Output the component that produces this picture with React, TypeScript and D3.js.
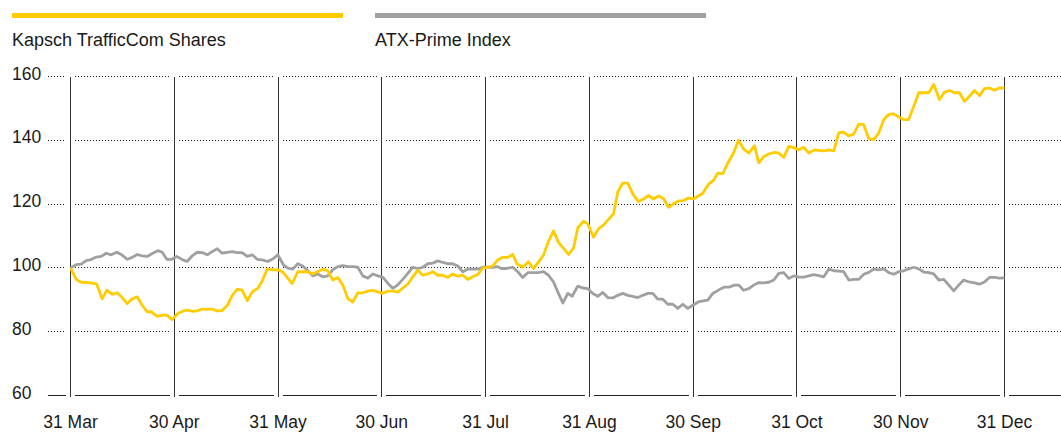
import React from "react";
import * as d3 from "d3";

// Month-end labels on the x axis (equally spaced)
const monthLabels = ["31 Mar", "30 Apr", "31 May", "30 Jun", "31 Jul", "31 Aug", "30 Sep", "31 Oct", "30 Nov", "31 Dec"];
const yTicks = [60, 80, 100, 120, 140, 160];

const seriesNames = ["Kapsch TrafficCom Shares", "ATX-Prime Index"];
const seriesColors = ["#FFCC00", "#A0A0A0"];

// [months after 31 Mar, index value (31 Mar = 100)]
const kapschShares: [number, number][] = [
  [0, 100], [0.055, 96.4], [0.103, 95.5], [0.183, 95.4], [0.253, 94.9], [0.305, 90.3], [0.35, 93.0], [0.402, 91.7],
  [0.45, 92.2], [0.498, 90.7], [0.546, 88.8], [0.595, 90.3], [0.643, 90.9], [0.691, 88.3], [0.739, 86.2], [0.778, 86.3],
  [0.835, 84.8], [0.889, 85.2], [0.928, 85.2], [0.98, 83.8], [1.034, 85.7], [1.089, 86.5], [1.13, 86.8], [1.178, 86.4],
  [1.221, 86.5], [1.269, 87.1], [1.317, 87.0], [1.365, 87.1], [1.414, 86.5], [1.458, 86.6], [1.51, 88.2], [1.558, 91.4],
  [1.606, 93.3], [1.654, 93.0], [1.703, 89.7], [1.751, 92.5], [1.805, 93.6], [1.847, 95.9], [1.895, 99.6], [1.949, 99.4],
  [1.998, 99.4], [2.046, 98.7], [2.136, 95.1], [2.19, 98.8], [2.287, 98.8], [2.335, 98.1], [2.431, 99.6], [2.479, 99.1],
  [2.527, 96.2], [2.576, 97.0], [2.624, 94.6], [2.672, 90.4], [2.72, 89.3], [2.768, 92.2], [2.817, 92.2], [2.865, 92.7],
  [2.913, 93.0], [2.961, 92.5], [3.003, 92.0], [3.057, 92.7], [3.106, 92.7], [3.154, 92.4], [3.202, 93.7], [3.25, 94.9],
  [3.298, 97.2], [3.347, 99.3], [3.395, 97.7], [3.443, 98.1], [3.491, 98.8], [3.539, 97.7], [3.587, 97.7], [3.636, 97.0],
  [3.684, 98.1], [3.732, 97.4], [3.78, 97.7], [3.828, 96.4], [3.876, 97.2], [3.925, 98.0], [3.973, 99.9], [4.021, 100.2],
  [4.069, 100.6], [4.117, 102.5], [4.166, 103.3], [4.214, 103.3], [4.262, 104.2], [4.301, 101.3], [4.358, 100.2], [4.413, 101.9],
  [4.461, 99.8], [4.503, 101.6], [4.558, 104.0], [4.599, 107.8], [4.654, 111.6], [4.702, 108.0], [4.75, 106.2], [4.799, 104.2],
  [4.847, 106.2], [4.888, 112.5], [4.943, 114.6], [4.985, 113.8], [5.04, 109.6], [5.091, 112.4], [5.136, 113.4], [5.184, 115.2],
  [5.232, 116.9], [5.274, 123.9], [5.322, 126.6], [5.37, 126.6], [5.418, 123.2], [5.473, 120.8], [5.521, 121.6], [5.57, 122.7],
  [5.618, 121.6], [5.666, 122.6], [5.714, 121.7], [5.762, 119.0], [5.81, 120.1], [5.859, 121.0], [5.907, 121.1], [5.955, 121.9],
  [6.003, 121.6], [6.054, 122.6], [6.093, 123.4], [6.15, 126.3], [6.196, 127.4], [6.237, 129.7], [6.285, 129.5], [6.334, 132.9],
  [6.389, 136.0], [6.437, 140.0], [6.485, 137.3], [6.536, 136.0], [6.591, 138.3], [6.632, 132.9], [6.68, 134.9], [6.729, 135.7],
  [6.784, 136.2], [6.825, 136.0], [6.873, 134.6], [6.921, 138.1], [6.969, 137.7], [7.018, 137.0], [7.066, 137.8], [7.114, 136.0],
  [7.169, 137.0], [7.217, 136.8], [7.265, 136.7], [7.307, 137.0], [7.355, 136.7], [7.403, 142.3], [7.448, 142.6], [7.497, 141.4],
  [7.545, 141.9], [7.596, 145.1], [7.644, 144.9], [7.692, 140.5], [7.74, 140.2], [7.788, 142.3], [7.837, 146.5], [7.885, 148.1],
  [7.933, 148.3], [7.981, 147.3], [8.029, 146.5], [8.077, 146.5], [8.126, 150.7], [8.174, 154.9], [8.222, 154.9], [8.27, 154.9],
  [8.318, 157.5], [8.373, 152.8], [8.422, 155.1], [8.47, 155.6], [8.518, 154.9], [8.566, 154.9], [8.614, 152.2], [8.662, 153.8],
  [8.711, 155.6], [8.759, 154.0], [8.807, 156.2], [8.855, 156.4], [8.903, 155.7], [8.952, 156.4], [9.0, 156.4],
];

const atxPrime: [number, number][] = [
  [0, 100], [0.055, 101.0], [0.103, 101.2], [0.151, 102.3], [0.199, 102.6], [0.248, 103.4], [0.296, 103.6], [0.344, 104.6],
  [0.392, 104.1], [0.446, 104.9], [0.494, 104.1], [0.546, 102.7], [0.595, 103.3], [0.643, 104.2], [0.691, 103.8], [0.739, 103.6],
  [0.793, 104.6], [0.841, 105.4], [0.884, 104.9], [0.928, 102.7], [0.976, 102.7], [1.024, 103.6], [1.076, 102.6], [1.124, 102.0],
  [1.173, 103.8], [1.221, 104.9], [1.269, 104.8], [1.317, 104.1], [1.365, 105.1], [1.414, 106.0], [1.462, 104.6], [1.51, 104.9],
  [1.558, 105.1], [1.606, 104.8], [1.654, 104.8], [1.703, 103.6], [1.751, 104.1], [1.799, 102.7], [1.847, 102.5], [1.901, 102.0],
  [1.949, 102.8], [1.998, 104.1], [2.053, 100.9], [2.094, 99.9], [2.142, 99.6], [2.19, 101.3], [2.238, 100.6], [2.287, 99.1],
  [2.335, 97.5], [2.383, 98.1], [2.431, 97.2], [2.479, 97.5], [2.527, 99.4], [2.576, 100.4], [2.624, 100.7], [2.672, 100.4],
  [2.72, 100.4], [2.768, 100.2], [2.817, 97.5], [2.865, 96.8], [2.913, 98.1], [2.961, 97.5], [3.009, 97.1], [3.057, 95.2],
  [3.106, 93.6], [3.154, 94.7], [3.202, 96.4], [3.25, 98.3], [3.298, 100.2], [3.347, 99.8], [3.395, 100.2], [3.443, 101.3],
  [3.491, 101.5], [3.539, 102.2], [3.587, 101.7], [3.636, 101.3], [3.684, 101.3], [3.732, 100.6], [3.78, 98.8], [3.828, 99.6],
  [3.876, 99.6], [3.925, 99.6], [3.973, 100.2], [4.021, 100.2], [4.069, 100.2], [4.117, 100.4], [4.15, 99.8], [4.198, 99.8],
  [4.262, 100.2], [4.31, 98.8], [4.358, 97.0], [4.406, 98.5], [4.455, 98.5], [4.509, 98.5], [4.558, 98.8], [4.606, 97.7],
  [4.654, 95.6], [4.702, 92.0], [4.744, 89.0], [4.792, 92.0], [4.834, 91.1], [4.888, 94.3], [4.936, 93.7], [4.985, 93.5],
  [5.033, 92.0], [5.081, 91.1], [5.129, 92.3], [5.177, 90.7], [5.225, 90.6], [5.274, 91.4], [5.322, 92.0], [5.37, 91.4],
  [5.418, 91.1], [5.466, 90.7], [5.515, 91.4], [5.563, 92.0], [5.611, 92.0], [5.659, 90.2], [5.707, 90.2], [5.756, 88.6],
  [5.804, 88.6], [5.852, 87.3], [5.9, 88.6], [5.948, 87.3], [5.996, 88.3], [6.054, 89.4], [6.141, 89.9], [6.189, 92.0],
  [6.253, 93.2], [6.302, 94.0], [6.35, 94.0], [6.398, 94.6], [6.44, 94.6], [6.485, 93.0], [6.536, 93.5], [6.584, 94.6],
  [6.632, 95.4], [6.68, 95.3], [6.729, 95.5], [6.777, 96.2], [6.825, 98.3], [6.873, 98.5], [6.921, 96.7], [6.969, 97.5],
  [7.018, 97.1], [7.066, 97.1], [7.114, 97.5], [7.162, 97.9], [7.21, 97.6], [7.258, 97.2], [7.307, 99.6], [7.355, 99.1],
  [7.403, 99.0], [7.451, 98.8], [7.499, 96.2], [7.547, 96.4], [7.596, 96.4], [7.644, 98.0], [7.692, 98.6], [7.74, 99.6],
  [7.788, 99.4], [7.837, 99.7], [7.885, 98.5], [7.933, 98.0], [7.981, 98.8], [8.029, 99.1], [8.077, 99.7], [8.126, 100.2],
  [8.174, 99.7], [8.222, 98.7], [8.27, 98.5], [8.318, 98.1], [8.367, 96.2], [8.415, 96.4], [8.463, 94.6], [8.511, 92.8],
  [8.559, 94.6], [8.607, 96.2], [8.656, 95.6], [8.704, 95.4], [8.759, 94.9], [8.807, 95.6], [8.855, 97.0], [8.903, 97.0],
  [8.952, 96.8], [9.0, 96.9],
];

const W = 1061;
const H = 432;
const FONT = "'Liberation Sans', Arial, Helvetica, sans-serif";

export default function App() {
  const x = d3.scaleLinear().domain([0, monthLabels.length - 1]).range([70.5, 1004.5]);
  const y = d3.scaleLinear().domain([60, 160]).range([395.5, 76.5]);
  const gridLeft = 48;
  const gap = 4.5;

  const monthX = monthLabels.map((_, i) => x(i));
  const segments: [number, number][] = [];
  segments.push([gridLeft, monthX[0] - gap]);
  for (let i = 0; i < monthX.length - 1; i++) segments.push([monthX[i] + gap, monthX[i + 1] - gap]);
  segments.push([monthX[monthX.length - 1] + gap, W]);

  const line = d3
    .line<[number, number]>()
    .x((d) => x(d[0]))
    .y((d) => y(d[1]))
    .curve(d3.curveLinear);

  return (
    <svg
      width={W}
      height={H}
      style={{ position: "absolute", left: 0, top: 0, display: "block", background: "#fff" }}
      fontFamily={FONT}
    >
      {/* legend */}
      <rect x={12} y={13} width={331} height={5} fill={seriesColors[0]} />
      <rect x={375} y={13} width={331} height={5} fill={seriesColors[1]} />
      <text x={12} y={46} fontSize={18} fill="#1a1a1a">{seriesNames[0]}</text>
      <text x={375} y={46} fontSize={18} fill="#1a1a1a">{seriesNames[1]}</text>

      {/* horizontal gridlines */}
      {yTicks.map((t) => (
        <g key={t}>
          {segments.map(([a, b], i) => (
            <line
              key={i}
              x1={a}
              x2={b}
              y1={y(t)}
              y2={y(t)}
              stroke="#222"
              strokeWidth={1}
              strokeDasharray={t === 60 ? undefined : "1 2"}
              shapeRendering="crispEdges"
            />
          ))}
          <text x={12} y={y(t) + 3} fontSize={17.5} fill="#1a1a1a">{t}</text>
        </g>
      ))}

      {/* vertical month lines */}
      {monthX.map((mx, i) => (
        <line key={i} x1={mx} x2={mx} y1={y(160)} y2={y(60) + 1} stroke="#333" strokeWidth={1} shapeRendering="crispEdges" />
      ))}

      {/* x labels */}
      {monthLabels.map((m, i) => (
        <text key={m} x={monthX[i]} y={428} fontSize={17.5} textAnchor="middle" fill="#1a1a1a">{m}</text>
      ))}

      {/* series */}
      <path d={line(atxPrime) ?? ""} fill="none" stroke={seriesColors[1]} strokeWidth={2.8} strokeLinejoin="round" />
      <path d={line(kapschShares) ?? ""} fill="none" stroke={seriesColors[0]} strokeWidth={2.8} strokeLinejoin="round" />
    </svg>
  );
}
